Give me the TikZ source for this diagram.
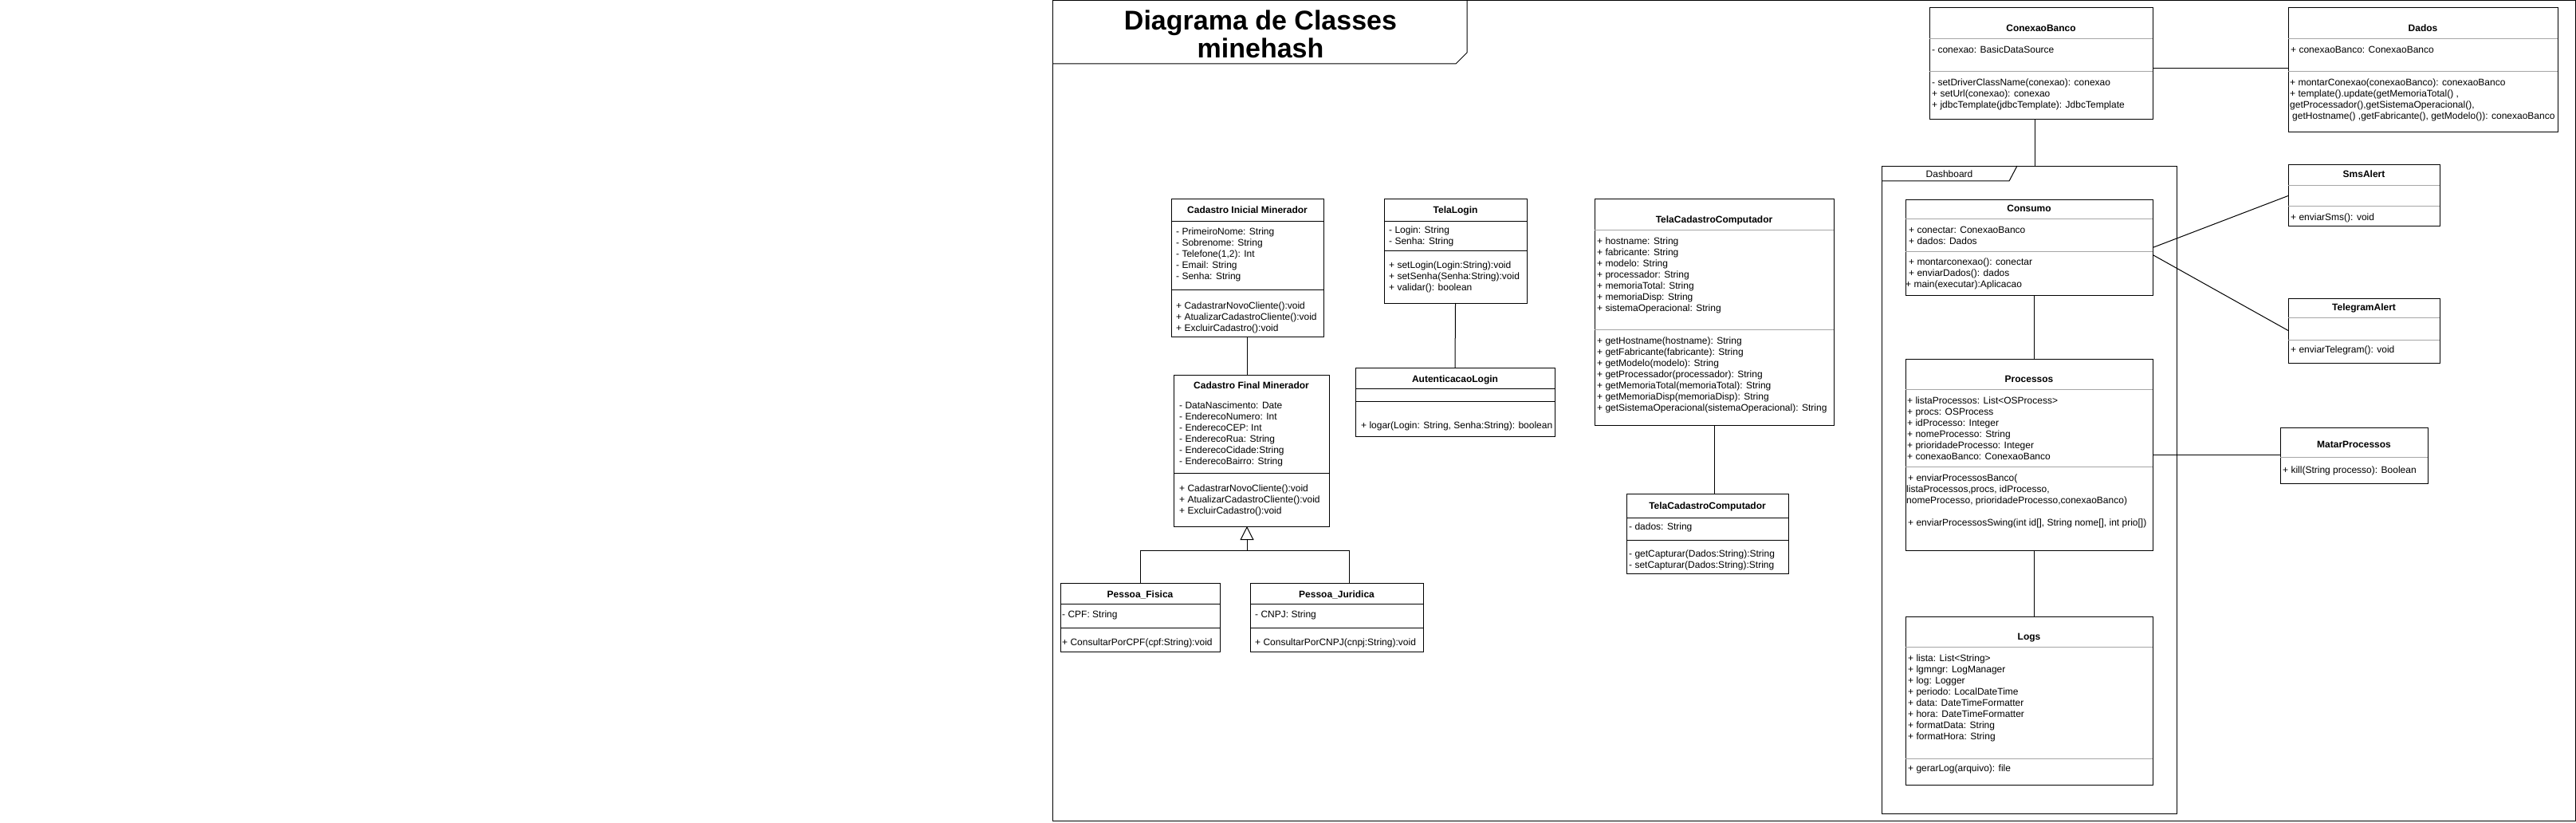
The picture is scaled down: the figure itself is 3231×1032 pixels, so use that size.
\documentclass[tikz,border=0pt]{standalone}
\usepackage{fontspec}
\setmainfont{Liberation Sans}
\usetikzlibrary{arrows.meta}
\newcommand\cls[5]{\node[clsbox, minimum width={(#4-#2)*1pt}, minimum height={(#5-#3)*1pt}, anchor=north west] (#1) at (#2,#3) {};}
\newcommand\sepl[4]{\draw[#1] (#2,#4) -- (#3,#4);}
\newcommand\ttlat[4]{\node[ttl] (#1) at (#2,#3+4.3) {#4};}
\newcommand\memat[4]{\node[mem] (#1) at (#2,#3-5.5) {\strut #4};}
\begin{document}
\begin{tikzpicture}[x=1pt,y=-1pt,
  clsbox/.style={draw, line width=1pt, inner sep=0pt, outer sep=0pt},
  sepk/.style={line width=0.9pt, draw=black},
  sepg/.style={line width=0.9pt, draw=gray!70},
  ttl/.style={font=\fontsize{12}{14}\selectfont\bfseries, inner sep=0pt, anchor=base},
  mem/.style={font=\fontsize{12}{14}\selectfont, inner sep=0pt, anchor=north west, align=left},
  conn/.style={line width=1pt},
  frame/.style={line width=1pt},
]
\useasboundingbox (0,0) rectangle (3231,1032);
\fill[white] (0,0) rectangle (3231,1032);

% outer frame and title tab
\draw[frame] (1320,1) rectangle (3230,1029);
\draw[frame] (1320,80) -- (1826,80) -- (1840,66) -- (1840,1);
\node[font=\fontsize{34}{36}\selectfont\bfseries, anchor=base, inner sep=0pt] (title1) at (1581,38) {Diagrama de Classes};
\node[font=\fontsize{34}{36}\selectfont\bfseries, anchor=base, inner sep=0pt] (title2) at (1581,73) {minehash};

% Cadastro Inicial Minerador
\cls{ci}{1469}{250}{1660}{422}
\sepl{sepk}{1469}{1660}{277}
\sepl{sepk}{1469}{1660}{363}
\ttlat{cit}{1564.5}{263.5}{Cadastro Inicial Minerador}
\memat{cia}{1475}{290}{- PrimeiroNome: String\\- Sobrenome: String\\- Telefone(1,2): Int\\- Email: String\\- Senha: String}
\memat{cim}{1475}{383}{+ CadastrarNovoCliente():void\\+ AtualizarCadastroCliente():void\\+ ExcluirCadastro():void}

% Cadastro Final Minerador
\cls{cf}{1472}{470}{1667}{660}
\sepl{sepk}{1472}{1667}{593}
\ttlat{cft}{1569.5}{483}{Cadastro Final Minerador}
\memat{cfa}{1479}{508}{- DataNascimento: Date\\- EnderecoNumero: Int\\- EnderecoCEP: Int\\- EnderecoRua: String\\- EnderecoCidade:String\\- EnderecoBairro: String}
\memat{cfm}{1479}{612}{+ CadastrarNovoCliente():void\\+ AtualizarCadastroCliente():void\\+ ExcluirCadastro():void}

% Pessoa_Fisica
\cls{pf}{1330}{731}{1530}{817}
\sepl{sepk}{1330}{1530}{757}
\sepl{sepk}{1330}{1530}{787}
\ttlat{pft}{1430}{745}{Pessoa\_Fisica}
\memat{pfa}{1332}{770}{- CPF: String}
\memat{pfm}{1332}{805}{+ ConsultarPorCPF(cpf:String):void}

% Pessoa_Juridica
\cls{pj}{1568}{731}{1785}{817}
\sepl{sepk}{1568}{1785}{757}
\sepl{sepk}{1568}{1785}{787}
\ttlat{pjt}{1676.5}{745}{Pessoa\_Juridica}
\memat{pja}{1574}{770}{- CNPJ: String}
\memat{pjm}{1574}{805}{+ ConsultarPorCNPJ(cnpj:String):void}

% TelaLogin
\cls{tl}{1736}{250}{1915}{380}
\sepl{sepk}{1736}{1915}{277}
\sepl{sepk}{1736}{1915}{314}
\ttlat{tlt}{1825.5}{263}{TelaLogin}
\memat{tla}{1742}{288}{- Login: String\\- Senha: String}
\memat{tlm}{1742}{332}{+ setLogin(Login:String):void\\+ setSenha(Senha:String):void\\+ validar(): boolean}

% AutenticacaoLogin
\cls{al}{1700}{461}{1950}{547}
\sepl{sepk}{1700}{1950}{487}
\sepl{sepk}{1700}{1950}{503}
\ttlat{alt}{1825}{475}{AutenticacaoLogin}
\memat{alm}{1707}{533}{+ logar(Login: String, Senha:String): boolean}

% TelaCadastroComputador (big)
\cls{tcca}{2000}{250}{2300}{533}
\sepl{sepg}{2000}{2300}{288}
\sepl{sepg}{2000}{2300}{413}
\ttlat{tccat}{2150}{275}{TelaCadastroComputador}
\memat{tccaa}{2003}{302}{+ hostname: String\\+ fabricante: String\\+ modelo: String\\+ processador: String\\+ memoriaTotal: String\\+ memoriaDisp: String\\+ sistemaOperacional: String}
\memat{tccam}{2003}{427}{+ getHostname(hostname): String\\+ getFabricante(fabricante): String\\+ getModelo(modelo): String\\+ getProcessador(processador): String\\+ getMemoriaTotal(memoriaTotal): String\\+ getMemoriaDisp(memoriaDisp): String\\+ getSistemaOperacional(sistemaOperacional): String}

% TelaCadastroComputador (small)
\cls{tccb}{2040}{619}{2243}{719}
\sepl{sepk}{2040}{2243}{649}
\sepl{sepk}{2040}{2243}{677}
\ttlat{tccbt}{2141.5}{634}{TelaCadastroComputador}
\memat{tccba}{2043}{660}{- dados: String}
\memat{tccbm}{2043}{694}{- getCapturar(Dados:String):String\\- setCapturar(Dados:String):String}

% ConexaoBanco
\cls{cb}{2420}{10}{2700}{150}
\sepl{sepg}{2420}{2700}{48}
\sepl{sepg}{2420}{2700}{89}
\ttlat{cbt}{2560}{35}{ConexaoBanco}
\memat{cba}{2423}{62}{- conexao: BasicDataSource}
\memat{cbm}{2423}{103}{- setDriverClassName(conexao): conexao\\+ setUrl(conexao): conexao\\+ jdbcTemplate(jdbcTemplate): JdbcTemplate}

% Dados
\cls{da}{2870}{10}{3208}{166}
\sepl{sepg}{2870}{3208}{48}
\sepl{sepg}{2870}{3208}{89}
\ttlat{dat}{3039}{35}{Dados}
\memat{daa}{2873}{62}{+ conexaoBanco: ConexaoBanco}
\memat{dam}{2872}{103}{+ montarConexao(conexaoBanco): conexaoBanco\\+ template().update(getMemoriaTotal() ,\\getProcessador(),getSistemaOperacional(),\\\hspace*{3pt}getHostname() ,getFabricante(), getModelo()): conexaoBanco}

% Dashboard frame
\node[draw, line width=1pt, inner sep=0pt, minimum width=370pt, minimum height=812pt, anchor=north west] (dash) at (2360,208) {};
\draw[frame] (2360,227) -- (2520,227) -- (2530,208);
\node[font=\fontsize{12}{14}\selectfont, inner sep=0pt, anchor=base] (dasht) at (2445,222.3) {Dashboard};

% Consumo
\cls{co}{2390}{251}{2700}{370}
\sepl{sepg}{2390}{2700}{274}
\sepl{sepg}{2390}{2700}{315}
\ttlat{cot}{2545}{261}{Consumo}
\memat{coa}{2394}{288}{+ conectar: ConexaoBanco\\+ dados: Dados}
\memat{com}{2394}{328}{+ montarconexao(): conectar\\+ enviarDados(): dados\\\hspace*{-4pt}+ main(executar):Aplicacao}

% Processos
\cls{pr}{2390}{450}{2700}{690}
\sepl{sepg}{2390}{2700}{488}
\sepl{sepg}{2390}{2700}{585}
\ttlat{prt}{2545}{475}{Processos}
\memat{pra}{2392}{502}{+ listaProcessos: List<OSProcess>\\+ procs: OSProcess\\+ idProcesso: Integer\\+ nomeProcesso: String\\+ prioridadeProcesso: Integer\\+ conexaoBanco: ConexaoBanco}
\memat{prm}{2391}{599}{\hspace*{2pt}+ enviarProcessosBanco(\\listaProcessos,procs, idProcesso,\\nomeProcesso, prioridadeProcesso,conexaoBanco)\\[14pt]\hspace*{2pt}+ enviarProcessosSwing(int id[], String nome[], int prio[])}

% Logs
\cls{lo}{2390}{773}{2700}{984}
\sepl{sepg}{2390}{2700}{811}
\sepl{sepg}{2390}{2700}{951}
\ttlat{lot}{2545}{798}{Logs}
\memat{loa}{2393}{825}{+ lista: List<String>\\+ lgmngr: LogManager\\+ log: Logger\\+ periodo: LocalDateTime\\+ data: DateTimeFormatter\\+ hora: DateTimeFormatter\\+ formatData: String\\+ formatHora: String}
\memat{lom}{2393}{963}{+ gerarLog(arquivo): file}

% SmsAlert
\cls{sms}{2870}{207}{3060}{284}
\sepl{sepg}{2870}{3060}{232}
\sepl{sepg}{2870}{3060}{258}
\ttlat{smst}{2965}{218}{SmsAlert}
\memat{smsm}{2873}{272}{+ enviarSms(): void}

% TelegramAlert
\cls{tg}{2870}{374}{3060}{455}
\sepl{sepg}{2870}{3060}{398}
\sepl{sepg}{2870}{3060}{426}
\ttlat{tgt}{2965}{385}{TelegramAlert}
\memat{tgm}{2873}{438}{+ enviarTelegram(): void}

% MatarProcessos
\cls{mp}{2860}{536}{3045}{606}
\sepl{sepg}{2860}{3045}{573}
\ttlat{mpt}{2952.5}{557}{MatarProcessos}
\memat{mpm}{2863}{589}{+ kill(String processo): Boolean}

% connectors
\draw[conn] (ci.south) -- (ci.south |- cf.north);
\coordinate (gen) at (1564,690);
\coordinate (pjin) at (1692,731);
\draw[conn] (pf.north) |- (pjin |- gen) -- (pjin);
\draw[conn, -{Triangle[open, length=17pt, width=17pt, line width=1pt]}] (gen) -- (gen |- cf.south);
\draw[conn] (tl.south) -- (al.north);
\draw[conn] (tcca.south) -- (tcca.south |- tccb.north);
\draw[conn] ([yshift=-6pt]cb.east) -- ([yshift=-6pt]cb.east -| da.west);
\draw[conn] ([xshift=-8pt]cb.south) -- ([xshift=-8pt]cb.south |- dash.north);
\draw[conn] (co.east) -- (sms.west);
\draw[conn] ([yshift=-9pt]co.east) -- (tg.west);
\draw[conn] ([xshift=6pt]co.south) -- ([xshift=6pt]co.south |- pr.north);
\draw[conn] ([xshift=6pt]pr.south) -- ([xshift=6pt]pr.south |- lo.north);
\draw[conn] (pr.east) -- (pr.east -| mp.west);
\end{tikzpicture}
\end{document}
